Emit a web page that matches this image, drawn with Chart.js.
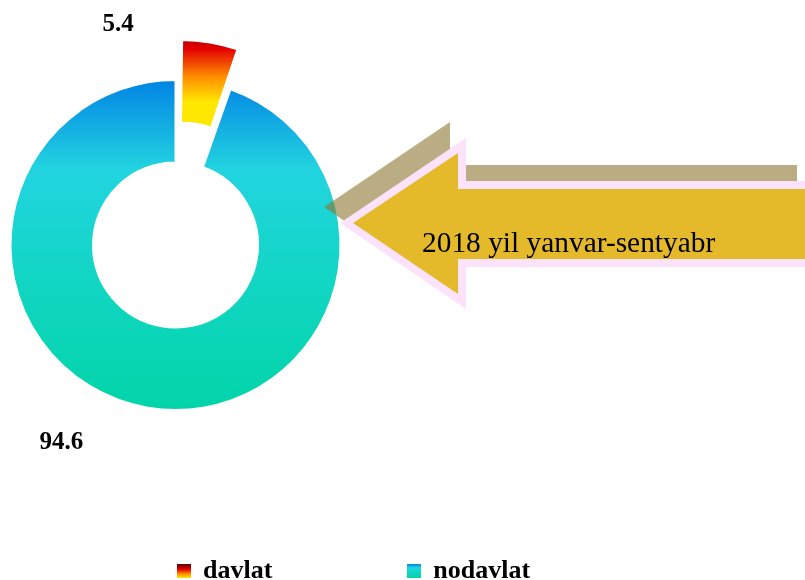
<!DOCTYPE html>
<html>
<head>
<meta charset="utf-8">
<script src="https://cdn.jsdelivr.net/npm/chart.js@4/dist/chart.umd.min.js"></script>
<style>
  html, body { margin: 0; padding: 0; background: #fff; overflow: hidden; }
</style>
</head>
<body>
<canvas id="myChart_Share" width="805" height="594"></canvas>
<script>
const categories = ["davlat", "nodavlat"]
const shares = [5.4, 94.6]
const explode = [97, 0] // chart.js shifts by offset/4 and grows the radius a bit
const arrowText = "2018 yil yanvar-sentyabr"

const serif = "'Liberation Serif', 'Times New Roman', serif"
const ringRadius = 165

const redStops = [[0, "#5a0000"], [0.38, "#e40000"], [0.7, "#ff8c00"], [1, "#ffe800"]]
const blueStops = [[0, "#0284e4"], [0.27, "#22d4e0"], [0.6, "#12d6c4"], [1, "#02d4a8"]]

// little gradient squares for the legend
const swatch = (stops) => {
  const c = document.createElement("canvas")
  c.width = 14
  c.height = 14
  const g = c.getContext("2d")
  const grad = g.createLinearGradient(0, 0, 0, 14)
  stops.forEach(s => grad.addColorStop(s[0], s[1]))
  g.fillStyle = grad
  g.fillRect(0, 0, 14, 14)
  return c
}
const swatches = [swatch(redStops), swatch(blueStops)]

const sliceFill = (ctx) => {
  const area = ctx.chart.chartArea
  if (!area) return ctx.dataIndex === 0 ? "#e40000" : "#22d4e0"
  const cy = (area.top + area.bottom) / 2
  let grad
  if (ctx.dataIndex === 0) {
    grad = ctx.chart.ctx.createLinearGradient(0, cy - 205, 0, cy - 119)
    redStops.forEach(s => grad.addColorStop(s[0], s[1]))
  } else {
    grad = ctx.chart.ctx.createLinearGradient(0, cy - ringRadius, 0, cy + ringRadius)
    blueStops.forEach(s => grad.addColorStop(s[0], s[1]))
  }
  return grad
}

// value labels outside the ring
const shareLabels = {
  id: "shareLabels",
  afterDatasetsDraw(chart) {
    const c = chart.ctx
    const arcs = chart.getDatasetMeta(0).data
    const turn = [-24.3, 20.3]
    c.save()
    c.font = "bold 25px " + serif
    c.fillStyle = "#000"
    c.textAlign = "center"
    c.textBaseline = "middle"
    arcs.forEach((arc, i) => {
      const mid = (arc.startAngle + arc.endAngle) / 2 + turn[i] * Math.PI / 180
      const dist = arc.outerRadius + 63
      c.fillText(shares[i].toFixed(1), arc.x + Math.cos(mid) * dist, arc.y + Math.sin(mid) * dist)
    })
    c.restore()
  }
}

// the big arrow callout on the right
const arrowNote = {
  id: "arrowNote",
  afterDraw(chart) {
    const c = chart.ctx
    const outer = [[340, 223], [466, 138], [466, 181], [813, 181], [813, 267], [466, 267], [466, 309]]
    const inner = [[353, 223], [458, 153], [458, 189], [813, 189], [813, 259], [458, 259], [458, 294]]
    const poly = (pts, dx, dy) => {
      c.beginPath()
      pts.forEach((p, i) => i ? c.lineTo(p[0] + dx, p[1] + dy) : c.moveTo(p[0] + dx, p[1] + dy))
      c.closePath()
    }
    c.save()
    poly(outer, -16, -16)
    c.fillStyle = "rgba(140,118,50,0.6)"
    c.fill()
    poly(outer, 0, 0)
    c.fillStyle = "#fce3fb"
    c.fill()
    poly(inner, 0, 0)
    c.fillStyle = "#e4b92a"
    c.fill()
    c.font = "29.4px " + serif
    c.fillStyle = "#000"
    c.textAlign = "left"
    c.textBaseline = "alphabetic"
    c.fillText(arrowText, 422, 252)
    c.restore()
  }
}

const shareGraph = () => {
  new Chart(document.getElementById("myChart_Share"), {
    type: "doughnut",
    data: {
      labels: categories,
      datasets: [
        {
          data: shares,
          backgroundColor: sliceFill,
          borderColor: "#fff",
          borderWidth: 2,
          offset: explode,
          hoverOffset: 0,
        },
      ],
    },
    options: {
      responsive: false,
      animation: false,
      radius: ringRadius,
      cutout: "50%",
      layout: { padding: { left: 42, top: 67, right: 0, bottom: 0 } },
      plugins: {
        tooltip: { enabled: false },
        // empty title used only to push the ring to the left
        title: { display: true, position: "right", text: "", padding: { top: 0, bottom: 481.6 } },
        legend: {
          position: "bottom",
          align: "start",
          labels: {
            usePointStyle: true,
            boxWidth: 13,
            padding: 135,
            color: "#000",
            font: { family: serif, size: 26, weight: "bold" },
            generateLabels: () => categories.map((name, i) => ({
              text: name,
              pointStyle: swatches[i],
              fillStyle: "transparent",
              strokeStyle: "transparent",
              lineWidth: 0,
              fontColor: "#000",
              hidden: false,
              index: i,
            })),
          },
        },
      },
    },
    plugins: [shareLabels, arrowNote],
  })
}

window.addEventListener("load", shareGraph)
</script>
</body>
</html>
